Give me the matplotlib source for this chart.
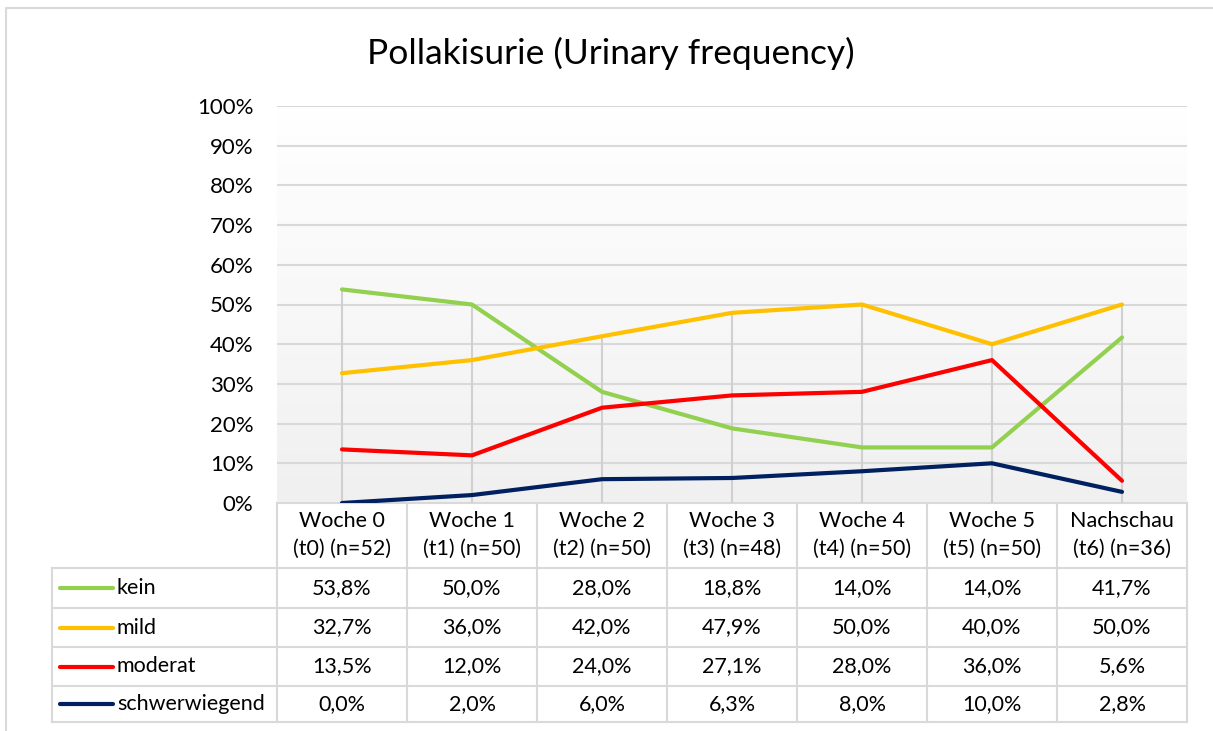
import numpy as np
import matplotlib
matplotlib.use("Agg")
import matplotlib.pyplot as plt
from matplotlib.colors import LinearSegmentedColormap

plt.rcParams['font.family'] = ['Lato', 'DejaVu Sans']

title = "Pollakisurie (Urinary frequency)"
categories = ["Woche 0\n(t0) (n=52)", "Woche 1\n(t1) (n=50)", "Woche 2\n(t2) (n=50)",
              "Woche 3\n(t3) (n=48)", "Woche 4\n(t4) (n=50)", "Woche 5\n(t5) (n=50)",
              "Nachschau\n(t6) (n=36)"]
series_names = ["kein", "mild", "moderat", "schwerwiegend"]
kein = [53.8, 50.0, 28.0, 18.8, 14.0, 14.0, 41.7]
mild = [32.7, 36.0, 42.0, 47.9, 50.0, 40.0, 50.0]
moderat = [13.5, 12.0, 24.0, 27.1, 28.0, 36.0, 5.6]
schwer = [0.0, 2.0, 6.0, 6.3, 8.0, 10.0, 2.8]
colors = ["#92D050", "#FFC000", "#FF0000", "#002060"]
yticks = [0, 10, 20, 30, 40, 50, 60, 70, 80, 90, 100]

series = [kein, mild, moderat, schwer]

W, H = 1213, 731
fig = plt.figure(figsize=(W / 100, H / 100), dpi=100)

# pixel-coordinate overlay axes for frame and table
bg = fig.add_axes([0, 0, 1, 1])
bg.set_xlim(0, W)
bg.set_ylim(H, 0)
bg.axis('off')

grid_c = "#d9d9d9"
# outer border
bg.plot([6, 6, 1300], [760, 8, 8], color=grid_c, lw=1.5)

x0, x1 = 277, 1187
y_top, y_bot = 106, 503
ax = fig.add_axes([x0 / W, 1 - y_bot / H, (x1 - x0) / W, (y_bot - y_top) / H])
n = len(categories)
ax.set_xlim(-0.5, n - 0.5)
ax.set_ylim(0, 100)

# gradient background
grad = np.linspace(0, 1, 256).reshape(-1, 1)
cmap = LinearSegmentedColormap.from_list("g", ["#f0f0f0", "#f8f8f8", "#ffffff"])
ax.imshow(grad, extent=[-0.5, n - 0.5, 0, 100], origin='lower', aspect='auto',
          cmap=cmap, zorder=0)

for s in ax.spines.values():
    s.set_visible(False)
ax.set_yticks(yticks)
ax.set_yticklabels([f"{v}%" for v in yticks])
ax.tick_params(axis='y', length=0, pad=17, labelsize=16)
ax.set_xticks([])
ax.yaxis.grid(True, color=grid_c, lw=1.5, zorder=1)
ax.set_axisbelow(True)

xs = np.arange(n)
tops = np.max(np.array(series), axis=0)
ax.vlines(xs, 0, tops, color="#d0d0d0", lw=1.5, zorder=2)

for vals, c in zip(series, colors):
    ax.plot(xs, vals, color=c, lw=3.0, solid_capstyle='round', zorder=3)

fig.text(611 / W, 1 - 53 / H, title, ha='center', va='center', fontsize=25.5)

# table
col_w = (x1 - x0) / n
row_lines = [568, 608, 647, 686, 722]
lw_t = 1.5
# header top line (axis)
bg.plot([x0, x1], [y_bot, y_bot], color=grid_c, lw=lw_t, zorder=5)
for y in row_lines:
    bg.plot([52, x1], [y, y], color=grid_c, lw=lw_t, zorder=5)
bg.plot([52, 52], [row_lines[0], row_lines[-1]], color=grid_c, lw=lw_t)
for i in range(n + 1):
    xx = x0 + i * col_w
    bg.plot([xx, xx], [y_bot, row_lines[-1]], color=grid_c, lw=lw_t)

fs = 15.5
for i, cat in enumerate(categories):
    cx = x0 + (i + 0.5) * col_w
    l1, l2 = cat.split("\n")
    bg.text(cx, 521, l1, ha='center', va='center', fontsize=fs)
    bg.text(cx, 549, l2, ha='center', va='center', fontsize=fs)

for r, (name, vals, c) in enumerate(zip(series_names, series, colors)):
    cy = (row_lines[r] + row_lines[r + 1]) / 2
    bg.plot([60, 113], [cy, cy], color=c, lw=3.0, solid_capstyle='round')
    bg.text(117, cy, name, ha='left', va='center', fontsize=fs)
    for i, v in enumerate(vals):
        cx = x0 + (i + 0.5) * col_w
        bg.text(cx, cy, f"{v:.1f}%".replace(".", ","), ha='center', va='center', fontsize=fs)

fig.savefig("out.png", dpi=100)
